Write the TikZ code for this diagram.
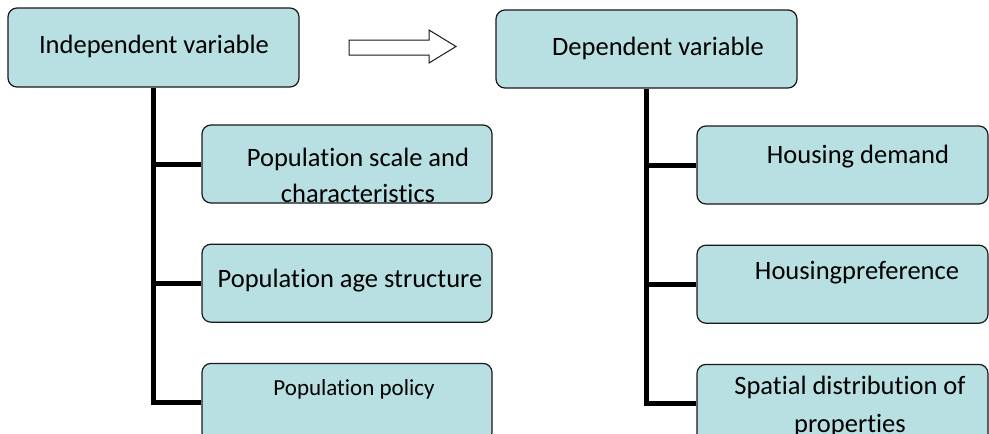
\documentclass[tikz,border=0pt]{standalone}
\usepackage{fontspec}
\setmainfont{Carlito}[Ligatures={NoCommon,NoContextual}]
\usepackage{xcolor}
\definecolor{varfill}{RGB}{184,223,226}
\definecolor{varline}{RGB}{25,25,25}
\usepackage{tikz}
\usetikzlibrary{positioning, calc}

\begin{document}
\begin{tikzpicture}[x=1pt, y=-1pt, node distance=40pt]
\clip (0,0) rectangle (989,434);

% variables
\node[draw=varline, line width=1.2pt, rounded corners=9pt, fill=varfill, inner sep=0pt, minimum width=291pt, minimum height=79pt] (ind) at (153.5,47.5) {};
\node[draw=varline, line width=1.2pt, rounded corners=9pt, fill=varfill, inner sep=0pt, minimum width=301pt, minimum height=78pt] (dep) at (646.5,49) {};
\node[font=\fontsize{26.5}{36}\selectfont, inner sep=0pt] (indt) at (154,46) {Independent variable};
\node[font=\fontsize{26.5}{36}\selectfont, inner sep=0pt] (dept) at (658,48) {Dependent variable};

% hollow arrow
\draw[line width=1pt, draw=varline, fill=white] (349,40) -- (429,40) -- (429,30) -- (456,46.5) -- (429,63) -- (429,55) -- (349,55) -- cycle;

% factors on the left
\node[draw=varline, line width=1.2pt, rounded corners=9pt, fill=varfill, inner sep=0pt, minimum width=290pt, minimum height=78pt] (pscale) at (347,164) {};
\node[draw=varline, line width=1.2pt, rounded corners=9pt, fill=varfill, inner sep=0pt, minimum width=290pt, minimum height=78pt, below=of pscale] (page) {};
\node[draw=varline, line width=1.2pt, rounded corners=9pt, fill=varfill, inner sep=0pt, minimum width=290pt, minimum height=78pt, below=of page] (ppol) {};
\node[font=\fontsize{26.5}{36}\selectfont, align=center, inner sep=0pt] (pscalet) at (358,175) {Population scale and\\characteristics};
\node[font=\fontsize{26.5}{36}\selectfont, inner sep=0pt] (paget) at (350,281) {Population age structure};
\node[font=\fontsize{23}{30}\selectfont, inner sep=0pt] (ppolt) at (354,389) {Population policy};

% outcomes on the right
\node[draw=varline, line width=1.2pt, rounded corners=9pt, fill=varfill, inner sep=0pt, minimum width=291pt, minimum height=78pt] (hdem) at (842.5,165) {};
\node[draw=varline, line width=1.2pt, rounded corners=9pt, fill=varfill, inner sep=0pt, minimum width=291pt, minimum height=78pt, below=of hdem] (hpref) {};
\node[draw=varline, line width=1.2pt, rounded corners=9pt, fill=varfill, inner sep=0pt, minimum width=291pt, minimum height=78pt, below=of hpref] (hspat) {};
\node[font=\fontsize{26.5}{36}\selectfont, inner sep=0pt] (hdemt) at (858,157) {Housing demand};
\node[font=\fontsize{26.5}{36}\selectfont, inner sep=0pt] (hpreft) at (857,273) {Housingpreference};
\node[font=\fontsize{26.5}{38}\selectfont, align=center, inner sep=0pt] (hspatt) at (850,406) {Spatial distribution of\\properties};

% brackets
\draw[line width=5pt] (ind.south) |- (ppol.west);
\draw[line width=5pt] (ind.south |- pscale.west) -- (pscale.west);
\draw[line width=5pt] (ind.south |- page.west) -- (page.west);
\draw[line width=5pt] (dep.south) |- (hspat.west);
\draw[line width=5pt] (dep.south |- hdem.west) -- (hdem.west);
\draw[line width=5pt] (dep.south |- hpref.west) -- (hpref.west);
\end{tikzpicture}
\end{document}
